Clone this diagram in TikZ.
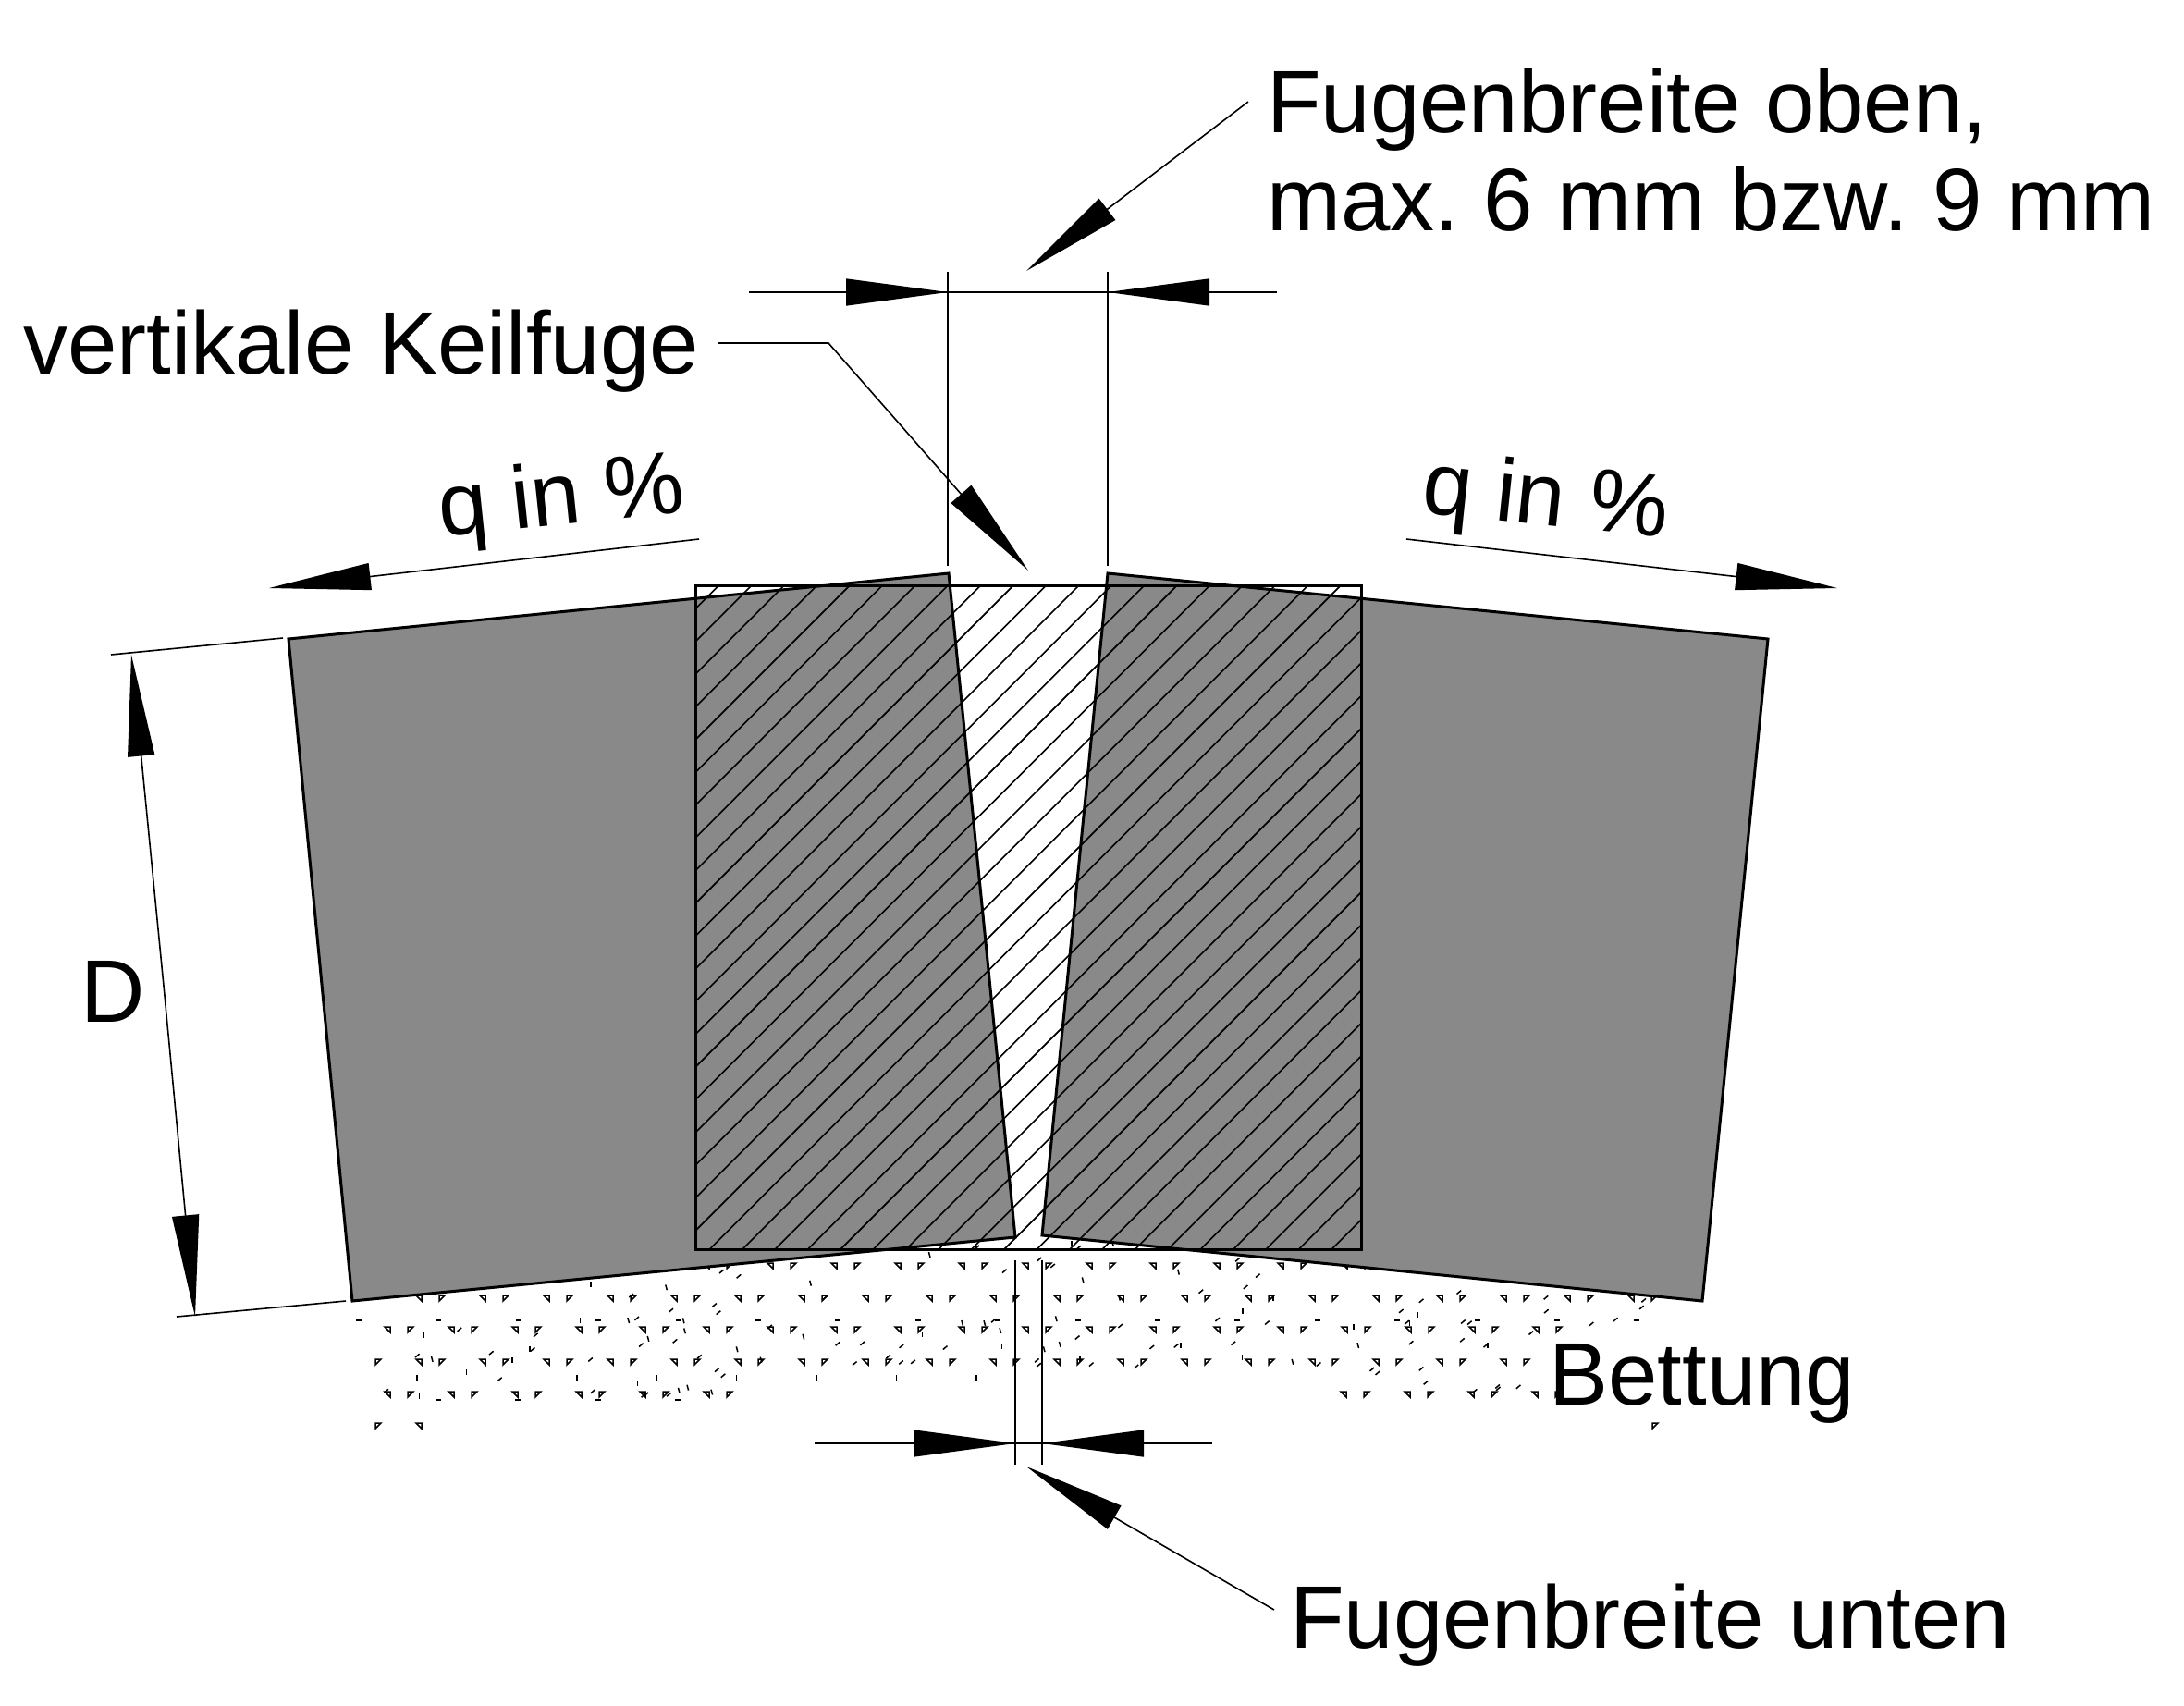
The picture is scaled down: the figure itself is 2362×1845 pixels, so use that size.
\documentclass[tikz,border=0pt]{standalone}
\usepackage{fontspec}
\setmainfont{Liberation Sans}
\usetikzlibrary{arrows.meta}
\definecolor{blockgray}{HTML}{898989}

\tikzset{
  label/.style={anchor=base west,inner sep=0pt,font=\fontsize{96}{96}\selectfont\frenchspacing},
  block/.style={draw=black,line width=3pt,line join=miter},
  thin/.style={line width=1.6pt},
  tip/.style={line width=1.6pt,-{Triangle[length=110pt,width=29pt]}},
  speck/.style={line width=1.5pt}
}
\newcommand{\speckl}[2]{\draw[speck] (#1-3,#2-3) -- (#1+3,#2-3) -- (#1+3,#2+3) -- cycle;}
\newcommand{\speckr}[2]{\draw[speck] (#1-3,#2-3) -- (#1+3,#2-3) -- (#1-3,#2+3) -- cycle;}

\begin{document}
\begin{tikzpicture}[x=1pt,y=-1pt]
  \useasboundingbox (0,0) rectangle (2362,1845);

  % bedding
  \pgfmathsetseed{17}
  \foreach \y/\xs/\n in {1369/764/10,1404/453/19,1438/419/18,1473/453/17,1508/419/5,1508/1453/3}
    \foreach \k in {0,...,\n} {
      \speckl{\xs+69*\k}{\y}
      \speckr{\xs+25+69*\k}{\y}
    }
  \foreach \k in {0,...,16}
    \draw[speck] (385+86.4*\k,1428) -- +(6,0);
  \foreach \k in {0,...,3}
    \draw[speck] (471+86.4*\k,1514) -- +(6,0);
  \foreach \k in {0,...,7}
    \draw[speck] (451+86.4*\k,1487) -- +(0,6);
  \foreach \ya/\yb/\xa/\xb/\n in {1345/1440/395/1790/85,1440/1480/395/1660/50,1480/1515/400/800/14,1480/1515/1440/1660/8}
    \foreach \k in {1,...,\n} {
      \pgfmathsetmacro{\px}{\xa+rnd*(\xb-\xa)}
      \pgfmathsetmacro{\py}{\ya+rnd*(\yb-\ya)}
      \pgfmathsetmacro{\pa}{rnd<0.6 ? 40 : (rnd<0.5 ? 105 : 90)}
      \draw[speck] (\px,\py) -- +(-\pa:6);
    }
  \speckr{409}{1473}
  \speckr{409}{1542}
  \speckl{453}{1542}
  \speckr{1790}{1542}

  % blocks
  \path[fill=blockgray] (312,691) -- (1026,620) -- (1098,1338) -- (381,1407) -- cycle;
  \path[fill=blockgray] (1198,620) -- (1912,691) -- (1841,1407) -- (1127,1336) -- cycle;

  % hatching
  \begin{scope}
    \clip (752,633) rectangle (1472,1351);
    \foreach \k in {-1,...,41}
      \draw[thin] (1410.5+35.4*\k-633,633) -- +(-800,800);
  \end{scope}
  \draw[line width=3pt] (752,633) rectangle (1472,1351);

  \draw[block] (312,691) -- (1026,620) -- (1098,1338) -- (381,1407) -- cycle;
  \draw[block] (1198,620) -- (1912,691) -- (1841,1407) -- (1127,1336) -- cycle;

  % labels
  \node[label] (Oben1) at (1370,143) {Fugenbreite oben,};
  \node[label] (Oben2) at (1370,249) {max. 6 mm bzw. 9 mm};
  \node[label] (Keil)  at (25,404)   {vertikale Keilfuge};
  \node[label] (Bett)  at (1675,1519) {Bettung};
  \node[label] (Unten) at (1395,1782) {Fugenbreite unten};
  \node[label] (Dep)   at (87,1105)  {D};
  \node[label,rotate=6]  (QL) at (477,581) {q in \%};
  \node[label,rotate=-6] (QR) at (1536,554) {q in \%};

  % upper width
  \coordinate (T01) at (810,316);
  \coordinate (T02) at (917,316);
  \coordinate (T03) at (1025,316);
  \coordinate (T04) at (1198,316);
  \coordinate (T05) at (1306,316);
  \coordinate (T06) at (1381,316);
  \draw[thin] (T01) -- (T06);
  \draw[tip] (T02) -- (T03);
  \draw[tip] (T05) -- (T04);
  \draw[thin] (1025,294) -- (1025,612);
  \draw[thin] (1198,294) -- (1198,612);
  \coordinate (T07) at (1350,110);
  \coordinate (T08) at (1110,293);
  \draw[tip] (T07) -- (T08);

  % wedge joint
  \coordinate (W01) at (776,371);
  \coordinate (W02) at (896,371);
  \coordinate (W03) at (1112,617);
  \draw[tip] (W01) -- (W02) -- (W03);

  % slope
  \coordinate (S01) at (756,583);
  \coordinate (S02) at (291,636);
  \coordinate (S03) at (1521,583);
  \coordinate (S04) at (1987,636);
  \draw[tip] (S01) -- (S02);
  \draw[tip] (S03) -- (S04);

  % thickness
  \coordinate (D01) at (142,708);
  \coordinate (D02) at (211,1424);
  \draw[thin] (120,708) -- (306,690);
  \draw[thin] (191,1424) -- (374,1407);
  \draw[tip] (177,1066) -- (D01);
  \draw[tip] (177,1066) -- (D02);

  % lower width
  \coordinate (U01) at (881,1561);
  \coordinate (U02) at (988,1561);
  \coordinate (U03) at (1098,1561);
  \coordinate (U04) at (1127,1561);
  \coordinate (U05) at (1235,1561);
  \coordinate (U06) at (1311,1561);
  \draw[thin] (U01) -- (U06);
  \draw[tip] (U02) -- (U03);
  \draw[tip] (U05) -- (U04);
  \draw[thin] (1098,1363) -- (1098,1584);
  \draw[thin] (1127,1363) -- (1127,1584);
  \coordinate (U07) at (1378,1741);
  \coordinate (U08) at (1110,1586);
  \draw[tip] (U07) -- (U08);
\end{tikzpicture}
\end{document}
